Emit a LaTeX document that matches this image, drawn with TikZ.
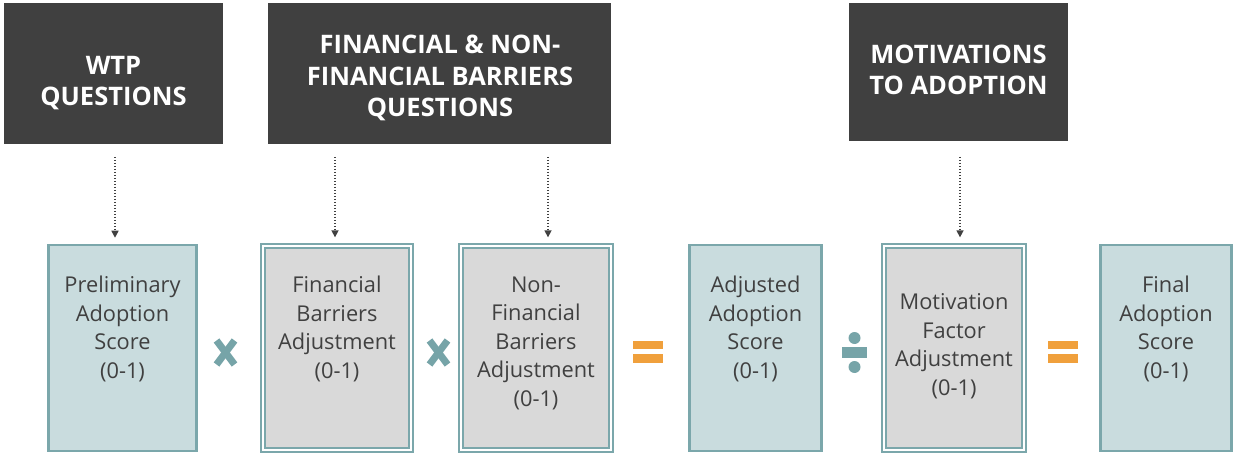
\documentclass[tikz,border=0pt]{standalone}
\usepackage{fontspec}
\setmainfont{Open Sans}
\usetikzlibrary{arrows.meta,calc}
\definecolor{hdrfill}{HTML}{404040}
\definecolor{tealfill}{HTML}{C9DCDE}
\definecolor{tealline}{HTML}{7BA7AB}
\definecolor{grayfill}{HTML}{D9D9D9}
\definecolor{txtgray}{HTML}{404040}
\definecolor{opteal}{HTML}{76A4A8}
\definecolor{oporange}{HTML}{F0A03C}
\tikzset{
  hdr/.style={fill=hdrfill, draw=none, inner sep=0pt},
  hdrtxt/.style={text=white, align=center, font=\fontsize{25.5}{31.5}\selectfont\bfseries, inner sep=0pt},
  tealbox/.style={fill=tealfill, draw=tealline, line width=2.5pt, inner sep=0pt},
  grayouter/.style={fill=white, draw=tealline, line width=1.3pt, inner sep=0pt},
  grayinner/.style={fill=grayfill, draw=tealline, line width=1.3pt, inner sep=0pt},
  boxtxt/.style={text=txtgray, align=center, font=\fontsize{21.8}{28.5}\selectfont, inner sep=0pt},
  dotarrow/.style={draw=txtgray, line width=1.5pt, dash pattern=on 1.5pt off 1.5pt, -{Triangle[width=7pt,length=7pt]}, shorten >=6pt},
  timesop/.style={draw=opteal, line width=7pt},
  eqop/.style={fill=oporange, draw=none},
  divop/.style={fill=opteal, draw=none}
}
\begin{document}
\begin{tikzpicture}[x=1pt,y=-1pt]
\useasboundingbox (0,0) rectangle (1233,454);
% headers
\node[hdr, minimum width=219pt, minimum height=141pt] (h1) at (113.5,73.5) {};
\node[hdr, minimum width=343pt, minimum height=141pt] (h2) at (439.5,73.5) {};
\node[hdr, minimum width=219pt, minimum height=138pt] (h3) at (958.5,72) {};
\node[hdrtxt] (h1t) at (113.5,83) {WTP\\QUESTIONS};
\node[hdrtxt] (h2t) at (440,78) {FINANCIAL \& NON-\\FINANCIAL BARRIERS\\QUESTIONS};
\node[hdrtxt] (h3t) at (958.5,70) {MOTIVATIONS\\TO ADOPTION};
% boxes
\node[tealbox, minimum width=148pt, minimum height=206pt] (b1) at (122.5,348) {};
\node[grayouter, minimum width=152pt, minimum height=208pt] (b2) at (337,348) {};
\node[grayinner, minimum width=144pt, minimum height=200pt] (b2i) at (337,348) {};
\node[grayouter, minimum width=154pt, minimum height=208pt] (b3) at (536,348) {};
\node[grayinner, minimum width=146pt, minimum height=200pt] (b3i) at (536,348) {};
\node[tealbox, minimum width=132pt, minimum height=206pt] (b4) at (755.5,348) {};
\node[grayouter, minimum width=144pt, minimum height=208pt] (b5) at (954,348) {};
\node[grayinner, minimum width=136pt, minimum height=200pt] (b5i) at (954,348) {};
\node[tealbox, minimum width=131pt, minimum height=206pt] (b6) at (1166,348) {};
% box texts
\node[boxtxt] (b1t) at (b1 |- 0,329) {Preliminary\\Adoption\\Score\\(0-1)};
\node[boxtxt] (b2t) at (b2 |- 0,329) {Financial\\Barriers\\Adjustment\\(0-1)};
\node[boxtxt] (b3t) at (b3 |- 0,343) {Non-\\Financial\\Barriers\\Adjustment\\(0-1)};
\node[boxtxt] (b4t) at (b4 |- 0,329) {Adjusted\\Adoption\\Score\\(0-1)};
\node[boxtxt] (b5t) at (b5 |- 0,346) {Motivation\\Factor\\Adjustment\\(0-1)};
\node[boxtxt] (b6t) at (b6 |- 0,329) {Final\\Adoption\\Score\\(0-1)};
% arrows
\coordinate (a1) at (115,157);
\coordinate (a2) at (335,157);
\coordinate (a3) at (548,157);
\coordinate (a4) at (960,157);
\draw[dotarrow] (a1) -- (a1 |- b1.north);
\draw[dotarrow] (a2) -- (a2 |- b2.north);
\draw[dotarrow] (a3) -- (a3 |- b3.north);
\draw[dotarrow] (a4) -- (a4 |- b5.north);
% operators
\coordinate (x1) at (225.5,352.5);
\coordinate (x2) at (438.5,352.5);
\draw[timesop] ($(x1)+(-9,-12)$) -- ($(x1)+(9,12)$);
\draw[timesop] ($(x1)+(9,-12)$) -- ($(x1)+(-9,12)$);
\draw[timesop] ($(x2)+(-9,-12)$) -- ($(x2)+(9,12)$);
\draw[timesop] ($(x2)+(9,-12)$) -- ($(x2)+(-9,12)$);
\coordinate (e1) at (648,352);
\coordinate (e2) at (1063,352);
\fill[eqop] ($(e1)+(-15,-11)$) rectangle ($(e1)+(15,-3)$);
\fill[eqop] ($(e1)+(-15,2)$) rectangle ($(e1)+(15,11)$);
\fill[eqop] ($(e2)+(-15,-11)$) rectangle ($(e2)+(15,-3)$);
\fill[eqop] ($(e2)+(-15,2)$) rectangle ($(e2)+(15,11)$);
\coordinate (d1) at (854.5,352.5);
\fill[divop] ($(d1)+(-12.5,-5.5)$) rectangle ($(d1)+(12.5,5.5)$);
\fill[divop] ($(d1)+(0,-14.5)$) circle (6pt);
\fill[divop] ($(d1)+(0,14.5)$) circle (6pt);
\end{tikzpicture}
\end{document}
